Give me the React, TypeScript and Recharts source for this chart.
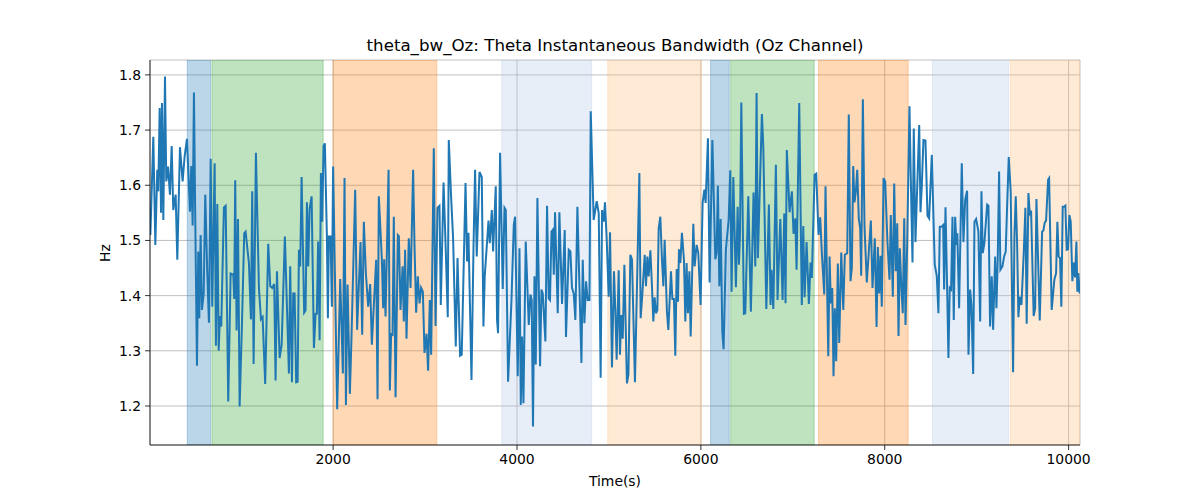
import React from 'react';
import { LineChart, Line, XAxis, YAxis, CartesianGrid, ReferenceArea } from 'recharts';

const times = [
  12, 44, 66, 87, 98, 113, 128, 138, 153, 171, 185, 204, 225, 244, 261, 287, 305, 334, 363, 385,
  410, 443, 457, 472, 486, 500, 519, 533, 544, 559, 573, 592, 609, 631, 649, 668, 685, 711, 725, 740,
  755, 769, 783, 812, 831, 859, 885, 914, 924, 935, 950, 965, 983, 1008, 1033, 1048, 1084, 1106, 1120, 1135,
  1160, 1193, 1215, 1233, 1261,
  1294, 1316, 1337, 1359, 1374, 1389, 1418, 1440, 1475, 1519, 1533, 1552, 1566, 1581, 1598, 1614, 1628, 1642, 1657, 1685,
  1700, 1715, 1729, 1744, 1766, 1791, 1809, 1823, 1837, 1853, 1867, 1881, 1896, 1910, 1932, 1943, 1954, 1972, 1986, 2000,
  2019, 2044, 2077, 2106, 2124, 2139, 2157, 2182, 2200, 2240, 2261, 2298, 2316, 2334, 2356, 2381, 2403, 2421, 2468, 2483, 2497,
  2508, 2530, 2544, 2555, 2570, 2603, 2617, 2631, 2646, 2660, 2679, 2704, 2715, 2733, 2755, 2769, 2783, 2798, 2823, 2842,
  2870, 2885, 2903, 2921, 2940, 2957, 2976, 2994, 3016, 3033, 3052, 3066, 3095, 3114, 3135, 3157, 3171, 3201, 3226, 3247,
  3258, 3283, 3305, 3334, 3353, 3381, 3399, 3440, 3457, 3472, 3505, 3527, 3544, 3562, 3592, 3617, 3635, 3649, 3690, 3704,
  3726, 3740, 3769, 3783,
  3794, 3816, 3845, 3864, 3878, 3903, 3940, 3965, 3979, 4008, 4027, 4041, 4055, 4070, 4095, 4114, 4128, 4146, 4160, 4174,
  4190, 4204, 4222, 4251, 4266, 4280, 4309, 4327, 4345, 4359, 4375, 4389, 4400, 4414, 4443, 4461, 4490, 4519, 4533, 4563,
  4581, 4598, 4617, 4635, 4657, 4679, 4701, 4715, 4733, 4751, 4769, 4788, 4802, 4834, 4867, 4889, 4910, 4925, 4943, 4957,
  4976, 4997, 5012, 5033,
  5055, 5070, 5084, 5106, 5120, 5135, 5150, 5168, 5196, 5212, 5233, 5251, 5283, 5331, 5345, 5364, 5389, 5403, 5418, 5432,
  5451, 5468, 5483, 5497, 5512, 5527, 5541, 5559, 5577, 5592, 5606, 5631, 5646, 5675, 5690, 5707, 5722, 5737, 5751, 5762,
  5777, 5794, 5816, 5831, 5845, 5859, 5875, 5889, 5918, 5932, 5954, 5972, 5997, 6019, 6038, 6052, 6077, 6095, 6125, 6157,
  6171, 6185, 6201, 6215, 6233, 6247, 6272,
  6302, 6320, 6334, 6353, 6381, 6400, 6414, 6425, 6440, 6468, 6483, 6516, 6544, 6573, 6592, 6606, 6620, 6664, 6679, 6712,
  6740, 6758, 6769, 6788, 6816, 6834, 6864, 6889, 6907, 6921, 6935, 6965, 6990, 7008, 7027, 7041, 7070, 7098, 7114, 7128,
  7150, 7175, 7193, 7207, 7237, 7255, 7280, 7298, 7316, 7342, 7356, 7370, 7386, 7400, 7414, 7429, 7443, 7457, 7472, 7490,
  7505, 7527,
  7549, 7566, 7592, 7609, 7628, 7642, 7657, 7671, 7686, 7701, 7718, 7733, 7744, 7762, 7780, 7805, 7827, 7849, 7867, 7892,
  7911, 7925, 7940, 7954, 7968, 7987, 8005, 8030, 8052, 8066, 8088, 8103, 8120, 8136, 8150, 8164, 8182, 8196, 8212, 8226,
  8244, 8269, 8283, 8302, 8316, 8334, 8375, 8389, 8403, 8421, 8443, 8465, 8483, 8512, 8544, 8566, 8584, 8599, 8620, 8636,
  8646, 8661, 8679, 8693, 8707, 8722, 8737, 8751, 8766,
  8780, 8790, 8809, 8838, 8856, 8875, 8896, 8911, 8929, 8943, 8962, 8976, 8994, 9019, 9038, 9052, 9066, 9084, 9114, 9128,
  9146, 9164, 9179, 9201, 9215, 9229, 9244, 9258, 9280, 9299, 9316, 9331, 9349, 9370, 9396, 9411, 9425, 9440, 9454, 9468,
  9487, 9512, 9530, 9544, 9563, 9577, 9592, 9620, 9636, 9650, 9686, 9712, 9726, 9740, 9755, 9777, 9788, 9816, 9845, 9864,
  9878, 9892, 9907, 9921, 9936, 9951, 9965, 9979, 9994, 10008, 10023, 10041, 10055, 10070, 10085, 10095, 10106, 10120,
];

const values = [
  1.510, 1.688, 1.492, 1.628, 1.589, 1.740, 1.550, 1.749, 1.537, 1.797, 1.607, 1.634, 1.583, 1.671, 1.555, 1.583, 1.465, 1.669, 1.607, 1.653,
  1.684, 1.552, 1.635, 1.527, 1.768, 1.543, 1.273, 1.480, 1.359, 1.510, 1.374, 1.404, 1.583, 1.441, 1.351, 1.648, 1.380, 1.640, 1.309, 1.566,
  1.300, 1.363, 1.344, 1.560, 1.563, 1.208, 1.440, 1.438, 1.394, 1.609, 1.337, 1.539, 1.199, 1.347, 1.513, 1.516, 1.459, 1.357, 1.589, 1.276,
  1.659, 1.414, 1.357, 1.361, 1.240,
  1.494, 1.417, 1.414, 1.421, 1.246, 1.444, 1.287, 1.311, 1.507, 1.259, 1.453, 1.243, 1.404, 1.404, 1.243, 1.244, 1.483, 1.453, 1.615, 1.369,
  1.373, 1.569, 1.453, 1.557, 1.580, 1.305, 1.367, 1.367, 1.498, 1.319, 1.622, 1.534, 1.671, 1.676, 1.508, 1.359, 1.507, 1.507, 1.380, 1.634,
  1.441, 1.194, 1.430, 1.259, 1.613, 1.202, 1.420, 1.222, 1.326, 1.592, 1.338, 1.497, 1.329, 1.534, 1.441, 1.380, 1.421, 1.311, 1.465, 1.212, 1.580,
  1.543, 1.465, 1.377, 1.466, 1.362, 1.628, 1.228, 1.332, 1.327, 1.543, 1.216, 1.510, 1.508, 1.374, 1.453, 1.353, 1.483, 1.322, 1.504, 1.414,
  1.628, 1.492, 1.369, 1.435, 1.386, 1.414, 1.407, 1.296, 1.331, 1.264, 1.392, 1.293, 1.667, 1.345, 1.559, 1.563, 1.383, 1.605, 1.477, 1.361,
  1.682, 1.580, 1.504, 1.308, 1.468, 1.291, 1.293, 1.604, 1.462, 1.514, 1.247, 1.489, 1.628, 1.471, 1.624, 1.615, 1.344, 1.435, 1.536, 1.495,
  1.555, 1.480, 1.598, 1.356,
  1.332, 1.659, 1.412, 1.559, 1.555, 1.244, 1.392, 1.528, 1.543, 1.254, 1.486, 1.202, 1.326, 1.205, 1.498, 1.411, 1.347, 1.402, 1.392, 1.163,
  1.435, 1.275, 1.577, 1.272, 1.411, 1.404, 1.317, 1.563, 1.395, 1.392, 1.516, 1.519, 1.438, 1.551, 1.368, 1.551, 1.385, 1.519, 1.325, 1.483,
  1.480, 1.414, 1.404, 1.356, 1.561, 1.417, 1.278, 1.465, 1.350, 1.426, 1.392, 1.392, 1.734, 1.537, 1.571, 1.549, 1.251, 1.555, 1.534, 1.569,
  1.501, 1.398, 1.515, 1.270,
  1.444, 1.371, 1.284, 1.446, 1.293, 1.365, 1.322, 1.456, 1.241, 1.257, 1.474, 1.465, 1.243, 1.622, 1.359, 1.404, 1.474, 1.417, 1.471, 1.435,
  1.482, 1.417, 1.353, 1.397, 1.368, 1.374, 1.522, 1.543, 1.465, 1.417, 1.501, 1.371, 1.338, 1.444, 1.394, 1.394, 1.291, 1.448, 1.389, 1.484,
  1.459, 1.514, 1.465, 1.353, 1.459, 1.368, 1.444, 1.326, 1.530, 1.453, 1.492, 1.477, 1.383, 1.568, 1.592, 1.568, 1.685, 1.424, 1.682, 1.466,
  1.477, 1.599, 1.417, 1.539, 1.335, 1.303, 1.483,
  1.537, 1.627, 1.407, 1.615, 1.415, 1.561, 1.456, 1.507, 1.750, 1.367, 1.368, 1.580, 1.371, 1.587, 1.453, 1.767, 1.468, 1.729, 1.670, 1.376,
  1.565, 1.383, 1.447, 1.376, 1.637, 1.392, 1.539, 1.392, 1.549, 1.386, 1.664, 1.551, 1.589, 1.512, 1.540, 1.447, 1.749, 1.383, 1.526, 1.397,
  1.497, 1.385, 1.460, 1.432, 1.619, 1.621, 1.510, 1.542, 1.477, 1.402, 1.598, 1.447, 1.290, 1.471, 1.386, 1.414, 1.254, 1.377, 1.281, 1.458,
  1.314, 1.478,
  1.374, 1.474, 1.477, 1.728, 1.426, 1.450, 1.635, 1.569, 1.589, 1.628, 1.539, 1.522, 1.436, 1.756, 1.525, 1.424, 1.480, 1.536, 1.414, 1.504,
  1.343, 1.488, 1.404, 1.472, 1.380, 1.613, 1.607, 1.495, 1.429, 1.546, 1.398, 1.603, 1.444, 1.531, 1.327, 1.486, 1.411, 1.368, 1.540, 1.347,
  1.492, 1.743, 1.617, 1.460, 1.703, 1.497, 1.709, 1.551, 1.598, 1.682, 1.681, 1.545, 1.540, 1.655, 1.456, 1.436, 1.368, 1.525, 1.525, 1.528,
  1.411, 1.560, 1.411, 1.287, 1.414, 1.411, 1.543, 1.356, 1.543,
  1.492, 1.513, 1.377, 1.640, 1.497, 1.574, 1.590, 1.293, 1.411, 1.383, 1.258, 1.534, 1.539, 1.516, 1.353, 1.589, 1.477, 1.495, 1.565, 1.563,
  1.344, 1.435, 1.338, 1.471, 1.377, 1.465, 1.625, 1.447, 1.453, 1.471, 1.480, 1.561, 1.651, 1.589, 1.261, 1.510, 1.580, 1.495, 1.361, 1.398,
  1.383, 1.477, 1.559, 1.349, 1.586, 1.549, 1.554, 1.363, 1.377, 1.575, 1.355, 1.516, 1.518, 1.532, 1.536, 1.610, 1.613, 1.374, 1.429, 1.441,
  1.534, 1.471, 1.468, 1.380, 1.561, 1.561, 1.563, 1.483, 1.484, 1.546, 1.534, 1.426, 1.460, 1.433, 1.498, 1.407, 1.441, 1.404,
];

const xTicks = [2000, 4000, 6000, 8000, 10000];
const yTicks = [1.2, 1.3, 1.4, 1.5, 1.6, 1.7, 1.8];
const xDomain = [8, 10124];
const yDomain = [1.1293, 1.827];

const bandStarts = [413, 682, 2000, 3834, 4987, 6106, 6324, 7280, 8519, 9364];
const bandEnds = [668, 1892, 3128, 4812, 6005, 6309, 7233, 8255, 9346, 10124];
const bandColors = ['#1f77b4', '#2ca02c', '#ff7f0e', '#aec7e8', '#ffbb78', '#1f77b4', '#2ca02c', '#ff7f0e', '#aec7e8', '#ffbb78'];

const title = 'theta_bw_Oz: Theta Instantaneous Bandwidth (Oz Channel)';
const xLabel = 'Time(s)';
const yLabel = 'Hz';

const data = times.map((t, i) => ({ t, v: values[i] }));

const FONT = '"DejaVu Sans", sans-serif';
const tickStyle = { fontFamily: FONT, fontSize: 13.9, fill: '#000' };

export default function App() {
  return (
    <div style={{ position: 'absolute', left: 0, top: 0, width: 1200, height: 500, background: '#fff', fontFamily: FONT }}>
      <div style={{ position: 'absolute', left: 150, top: 35, width: 930, textAlign: 'center', fontSize: 16.67, lineHeight: '22px', color: '#000' }}>
        {title}
      </div>
      <div style={{ position: 'absolute', left: 150, top: 471, width: 930, textAlign: 'center', fontSize: 13.9, lineHeight: '20px', color: '#000' }}>
        {xLabel}
      </div>
      <div style={{ position: 'absolute', left: 75, top: 243, width: 60, textAlign: 'center', fontSize: 13.9, lineHeight: '20px', color: '#000', transform: 'rotate(-90deg)' }}>
        {yLabel}
      </div>
      <LineChart width={1200} height={500} data={data} margin={{ top: 60, right: 120, bottom: 0, left: 0 }}>
        <CartesianGrid stroke="#b0b0b0" strokeWidth={0.8} />
        {bandStarts.map((s, i) => (
          <ReferenceArea
            key={i}
            x1={s}
            x2={bandEnds[i]}
            fill={bandColors[i]}
            fillOpacity={0.3}
            stroke={bandColors[i]}
            strokeOpacity={0.3}
            strokeWidth={1}
            ifOverflow="hidden"
          />
        ))}
        <XAxis
          dataKey="t"
          type="number"
          domain={xDomain}
          ticks={xTicks}
          allowDataOverflow
          height={55}
          tickSize={5}
          tickMargin={4}
          tick={tickStyle}
          stroke="#000"
          axisLine={{ stroke: '#000', strokeWidth: 0.8 }}
          tickLine={{ stroke: '#000', strokeWidth: 0.8 }}
        />
        <XAxis
          xAxisId="top"
          orientation="top"
          type="number"
          domain={[0, 1]}
          height={0}
          tick={false}
          tickLine={false}
          axisLine={{ stroke: '#000', strokeWidth: 0.8 }}
        />
        <YAxis
          type="number"
          domain={yDomain}
          ticks={yTicks}
          allowDataOverflow
          width={150}
          tickSize={5}
          tickMargin={4}
          tick={tickStyle}
          tickFormatter={(v: number) => v.toFixed(1)}
          axisLine={{ stroke: '#000', strokeWidth: 0.8 }}
          tickLine={{ stroke: '#000', strokeWidth: 0.8 }}
        />
        <YAxis
          yAxisId="right"
          orientation="right"
          type="number"
          domain={[0, 1]}
          width={0}
          tick={false}
          tickLine={false}
          axisLine={{ stroke: '#000', strokeWidth: 0.8 }}
        />
        <Line
          type="linear"
          dataKey="v"
          stroke="#1f77b4"
          strokeWidth={2}
          dot={false}
          isAnimationActive={false}
        />
      </LineChart>
    </div>
  );
}
